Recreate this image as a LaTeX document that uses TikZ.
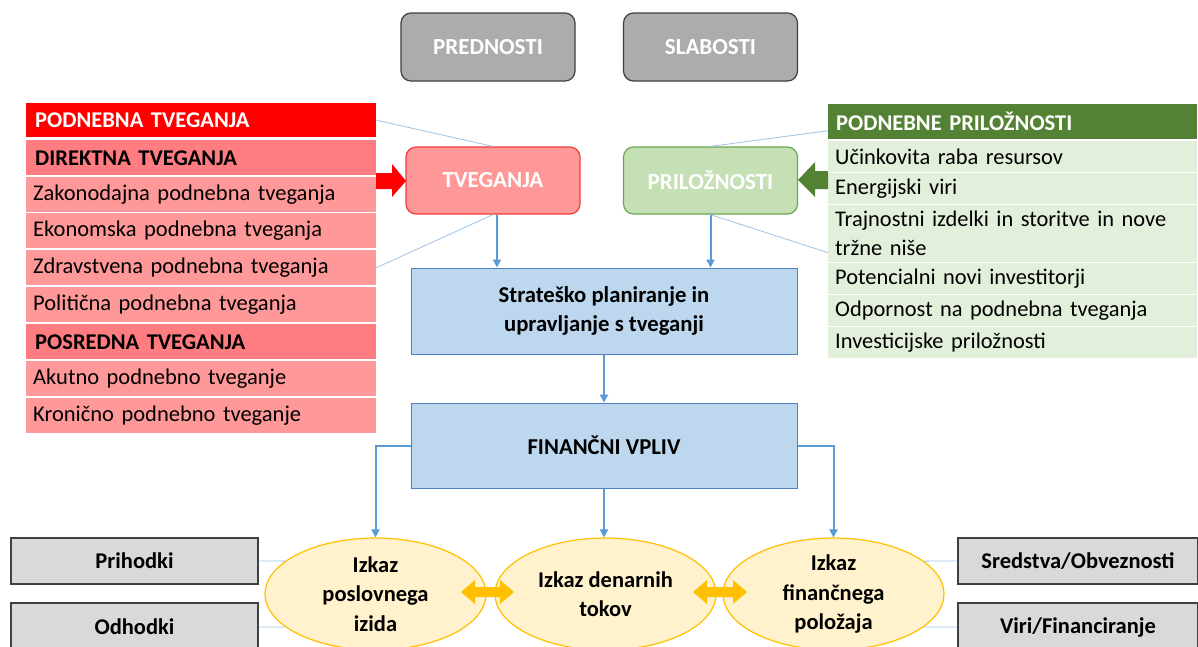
\documentclass[tikz,border=0pt]{standalone}
\usepackage{fontspec}
\setmainfont{Carlito}
\usetikzlibrary{shapes.geometric,arrows.meta}
\definecolor{cGray}{HTML}{AEABAB}
\definecolor{cGrayB}{HTML}{3F3F3F}
\definecolor{cRed}{HTML}{FF0000}
\definecolor{cMid}{HTML}{FF7C80}
\definecolor{cLight}{HTML}{FF9999}
\definecolor{cTvB}{HTML}{F23C3C}
\definecolor{cGreen}{HTML}{548235}
\definecolor{cLGreen}{HTML}{E2EFDA}
\definecolor{cPr}{HTML}{C5E0B4}
\definecolor{cPrB}{HTML}{6AA84F}
\definecolor{cBlue}{HTML}{BDD7EE}
\definecolor{cBlueB}{HTML}{4F81BD}
\definecolor{cArr}{HTML}{5B9BD5}
\definecolor{cThin}{HTML}{9DC3E6}
\definecolor{cEl}{HTML}{FFF2CC}
\definecolor{cElB}{HTML}{FFC000}
\definecolor{cBox}{HTML}{D9D9D9}
\definecolor{cBoxB}{HTML}{404040}
\begin{document}
\begin{tikzpicture}[x=1pt,y=-1pt,
  lrow/.style={rectangle, anchor=north west, minimum width=350pt, text width=336pt, inner xsep=7pt, inner ysep=0pt, minimum height=35pt, align=left, fill=cLight, font=\fontsize{22.5}{26}\selectfont},
  lhead/.style={lrow, text width=332pt, inner xsep=9pt, font=\bfseries\fontsize{22.5}{26}\selectfont},
  rrow/.style={rectangle, anchor=north west, minimum width=369pt, text width=355pt, inner xsep=7pt, inner ysep=0pt, minimum height=31pt, align=left, fill=cLGreen, font=\fontsize{22.4}{29}\selectfont},
  rhead/.style={rrow, fill=cGreen, text=white, minimum height=35pt, text width=353pt, inner xsep=8pt, font=\bfseries\fontsize{22.5}{26}\selectfont},
  rnd/.style={rectangle, rounded corners=10pt, minimum width=174pt, minimum height=67pt, line width=1.2pt, text=white, font=\bfseries\fontsize{23}{27}\selectfont},
  bluebox/.style={rectangle, draw=cBlueB, fill=cBlue, line width=1pt, minimum width=386pt, align=center, font=\bfseries\fontsize{22.7}{29}\selectfont},
  ell/.style={ellipse, draw=cElB, fill=cEl, line width=1.2pt, minimum width=221pt, minimum height=112pt, inner sep=0pt, align=center, font=\bfseries\fontsize{22.5}{29.5}\selectfont},
  gbox/.style={rectangle, draw=cBoxB, fill=cBox, line width=1.2pt, minimum width=247pt, minimum height=46pt, font=\bfseries\fontsize{22.5}{26}\selectfont},
  thin/.style={draw=cThin, line width=0.8pt},
  barrow/.style={draw=cArr, line width=2pt, -{Triangle[length=8pt,width=8pt]}}
]
\useasboundingbox (0,0) rectangle (1198,646);
\clip (0,0) rectangle (1198,646);
\fill[white] (0,0) rectangle (1198,646);

% top boxes
\node[rnd, fill=cGray, draw=cGrayB, minimum height=68pt] (pred) at (488,47) {PREDNOSTI};
\node[rnd, fill=cGray, draw=cGrayB, minimum height=68pt] (slab) at (710.5,47) {SLABOSTI};

% left table
\node[lhead, fill=cRed, text=white, minimum height=34pt] (lh) at (26,103) {PODNEBNA TVEGANJA};
\node[lhead, fill=cMid] (ld) at (26,140) {DIREKTNA TVEGANJA};
\node[lrow] (l1) at (26,177) {Zakonodajna podnebna tveganja};
\node[lrow] (l2) at (26,213) {Ekonomska podnebna tveganja};
\node[lrow] (l3) at (26,250) {Zdravstvena podnebna tveganja};
\node[lrow] (l4) at (26,287) {Politična podnebna tveganja};
\node[lhead, fill=cMid] (lp) at (26,324) {POSREDNA TVEGANJA};
\node[lrow] (l5) at (26,361) {Akutno podnebno tveganje};
\node[lrow] (l6) at (26,398) {Kronično podnebno tveganje};

% right table
\node[rhead] (rh) at (828,104) {PODNEBNE PRILOŽNOSTI};
\node[rrow] (r1) at (828,141) {Učinkovita raba resursov};
\node[rrow] (r2) at (828,173) {Energijski viri};
\node[rrow, minimum height=57pt] (r3) at (828,205) {Trajnostni izdelki in storitve in nove\\tržne niše};
\node[rrow] (r4) at (828,263) {Potencialni novi investitorji};
\node[rrow] (r5) at (828,295) {Odpornost na podnebna tveganja};
\node[rrow] (r6) at (828,327) {Investicijske priložnosti};

% middle boxes
\node[rnd, fill=cLight, draw=cTvB] (tv) at (493,180.5) {TVEGANJA};
\node[rnd, fill=cPr, draw=cPrB] (pr) at (710.5,180.5) {PRILOŽNOSTI};
\node[bluebox, minimum height=86pt] (strat) at (604,311) {Strateško planiranje in\\upravljanje s tveganji};
\node[bluebox, minimum height=85pt] (fin) at (604,445.5) {FINANČNI VPLIV};

% ellipses
\node[ell] (e1) at (375.5,594) {Izkaz\\poslovnega\\izida};
\node[ell] (e2) at (605.5,594) {Izkaz denarnih\\tokov};
\node[ell] (e3) at (833.5,594) {Izkaz\\finančnega\\položaja};

% gray boxes
\node[gbox] (pri) at (134.5,561) {Prihodki};
\node[gbox, minimum height=48pt] (odh) at (134.5,627) {Odhodki};
\node[gbox, minimum width=240pt] (sre) at (1078,561) {Sredstva/Obveznosti};
\node[gbox, minimum width=240pt, minimum height=48pt] (vir) at (1078,627) {Viri/Financiranje};

% thin connector lines
\draw[thin] (lh.east) -- (tv.north);
\draw[thin] (tv.south) -- (l3.east);
\draw[thin] ([yshift=-9pt]rh.west) -- (pr.north);
\draw[thin] (pr.south) -- ([yshift=-19pt]r3.west);
\draw[thin] (pri.east) -- (e1.160);
\draw[thin] (odh.east) -- (e1.200);
\draw[thin] (sre.west) -- (e3.20);
\draw[thin] (vir.west) -- (e3.340);

% block arrows
\fill[cRed] (376,173) -- (392,173) -- (392,164) -- (406,181) -- (392,197) -- (392,189) -- (376,189) -- cycle;
\fill[cGreen] (828,171) -- (815,171) -- (815,162) -- (798,180) -- (815,197) -- (815,189) -- (828,189) -- cycle;

% blue arrows
\draw[barrow] ([xshift=4pt]tv.south) -- ([xshift=4pt]tv.south |- strat.north);
\draw[barrow] (pr.south) -- (pr.south |- strat.north);
\draw[barrow] (strat.south) -- (fin.north);
\draw[barrow] (fin.west) -| (e1.north);
\draw[barrow] (fin.east) -| (e3.north);
\draw[barrow] (fin.south) -- (fin.south |- e2.north);

% yellow double arrows
\fill[cElB] (461,592) -- (475,580) -- (475,587) -- (500,587) -- (500,580) -- (514,592) -- (500,604) -- (500,597) -- (475,597) -- (475,604) -- cycle;
\fill[cElB] (693,592) -- (707,580) -- (707,587) -- (733,587) -- (733,580) -- (747,592) -- (733,604) -- (733,597) -- (707,597) -- (707,604) -- cycle;
\end{tikzpicture}
\end{document}
